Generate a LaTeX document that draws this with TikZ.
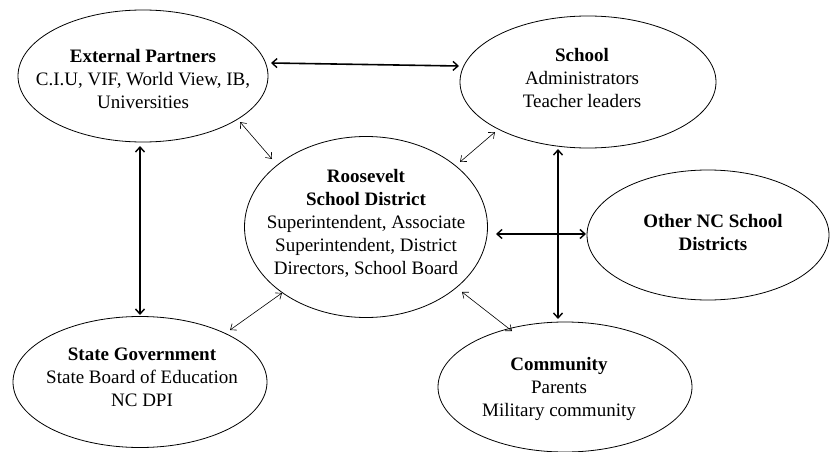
\documentclass[tikz,border=0pt]{standalone}
\usepackage{fontspec}
\setmainfont{Liberation Serif}
\usetikzlibrary{shapes.geometric,arrows.meta}
\begin{document}
\begin{tikzpicture}[x=1pt,y=-1pt,
  blob/.style={draw,ellipse,inner sep=0pt,line width=0.8pt},
  txt/.style={inner sep=0pt,align=center,font=\fontsize{19}{23}\selectfont},
  thick arr/.style={{Straight Barb[length=5pt,width=9pt,line width=1.4pt]}-{Straight Barb[length=5pt,width=9pt,line width=1.4pt]},line width=1.6pt},
  thin arr/.style={{Straight Barb[length=5pt,width=8pt]}-{Straight Barb[length=5pt,width=8pt]},line width=0.6pt}]
\useasboundingbox (0,0) rectangle (830,452);
\node[blob,minimum width=250pt,minimum height=132pt] (ep) at (143,76) {};
\node[txt] (ept) at (143,79)
  {\textbf{External Partners}\\C.I.U, VIF, World View, IB,\\Universities};
\node[blob,minimum width=256pt,minimum height=132pt] (sc) at (588,82) {};
\node[txt] (sct) at (582,78)
  {\textbf{School}\\Administrators\\Teacher leaders};
\node[blob,minimum width=243pt,minimum height=181pt] (rs) at (366,227) {};
\node[txt] (rst) at (366,223)
  {\textbf{Roosevelt}\\\textbf{School District}\\Superintendent, Associate\\Superintendent, District\\Directors, School Board};
\node[blob,minimum width=254pt,minimum height=131pt] (sg) at (140,382) {};
\node[txt] (sgt) at (142,377)
  {\textbf{State Government}\\State Board of Education\\NC DPI};
\node[blob,minimum width=254pt,minimum height=130pt] (cm) at (565,387) {};
\node[txt] (cmt) at (559,389)
  {\textbf{Community}\\Parents\\Military community};
\node[blob,minimum width=242pt,minimum height=130pt] (ot) at (708,235) {};
\node[txt] (ott) at (713,232)
  {\textbf{Other NC School}\\\textbf{Districts}};
% thick connectors
\coordinate (a1) at (271,63); \coordinate (a2) at (459,66);
\draw[thick arr] (a1) -- (a2);
\coordinate (b1) at (140,146); \coordinate (b2) at (140,315);
\draw[thick arr] (b1) -- (b2);
\coordinate (c1) at (558,149); \coordinate (c2) at (558,319);
\draw[thick arr] (c1) -- (c2);
\coordinate (d1) at (496,234); \coordinate (d2) at (586,234);
\draw[thick arr] (d1) -- (d2);
% thin connectors
\coordinate (e1) at (240,122); \coordinate (e2) at (272,159);
\draw[thin arr] (e1) -- (e2);
\coordinate (f1) at (495,132); \coordinate (f2) at (460,162);
\draw[thin arr] (f1) -- (f2);
\coordinate (g1) at (282,293); \coordinate (g2) at (230,330);
\draw[thin arr] (g1) -- (g2);
\coordinate (h1) at (462,292); \coordinate (h2) at (512,331);
\draw[thin arr] (h1) -- (h2);
\end{tikzpicture}
\end{document}
